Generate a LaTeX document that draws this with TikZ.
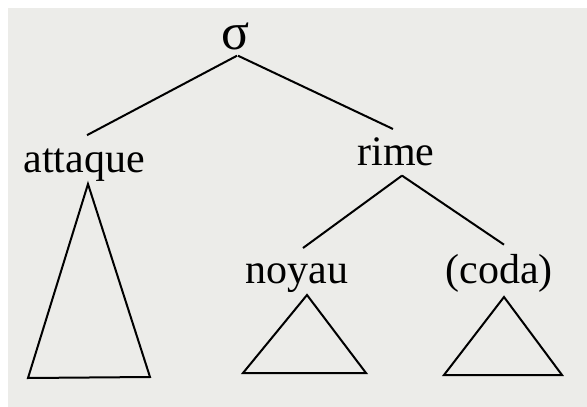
\documentclass[tikz,border=0pt]{standalone}
\usepackage{fontspec}
\setmainfont{Liberation Serif}
\usepackage{tikz}
\definecolor{paper}{RGB}{236,236,233}
\tikzset{
  lbl/.style={inner sep=0pt,anchor=base,font=\fontsize{42}{50}\selectfont},
  branch/.style={line width=2pt}
}

\begin{document}
\begin{tikzpicture}[x=1pt,y=-1pt]
  \fill[white] (0,0) rectangle (587,407);
  \fill[paper] (8,8) rectangle (587,407);
  \node[lbl,font=\fontsize{52}{60}\selectfont] (sigma) at (236,49) {σ};
  \node[lbl] (attaque) at (84,172) {attaque};
  \node[lbl] (rime) at (396,165) {rime};
  \node[lbl] (noyau) at (297,283) {noyau};
  \node[lbl] (coda) at (499,283) {(coda)};
  % branches
  \draw[branch] ([xshift=1,yshift=-6]sigma.south) -- ([xshift=3,yshift=13]attaque.north);
  \draw[branch] ([xshift=2,yshift=-6]sigma.south) -- ([xshift=-3,yshift=8]rime.north);
  \draw[branch] ([xshift=6,yshift=-10]rime.south) -- ([xshift=6,yshift=15]noyau.north);
  \draw[branch] ([xshift=6,yshift=-10]rime.south) -- ([xshift=5,yshift=9]coda.north);
  % triangles
  \draw[branch,line join=miter] (88,184) -- (28,378) -- (150,377) -- cycle;
  \draw[branch,line join=miter] (307,295) -- (243,373) -- (366,373) -- cycle;
  \draw[branch,line join=miter] (504,297) -- (444,375) -- (562,375) -- cycle;
\end{tikzpicture}
\end{document}
